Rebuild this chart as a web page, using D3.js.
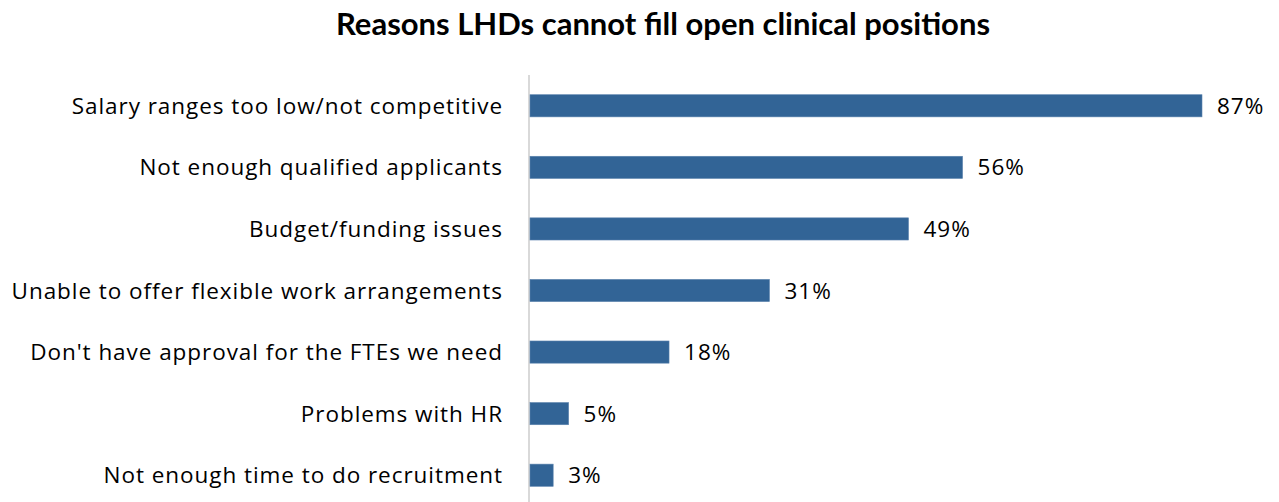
<!DOCTYPE html>
<meta charset='utf-8'>
<style>
body { margin: 0; background: #fff; }
svg text { font-family: "Open Sans", Lato, sans-serif; fill: #000; }
.title { font-family: Lato, sans-serif; font-weight: bold; font-size: 31px; }
.cat { font-size: 22.5px; letter-spacing: 0.95px; }
.val { font-size: 22.5px; letter-spacing: 1px; }
</style>
<svg width='1279' height='502'></svg>
<script src='https://d3js.org/d3.v7.min.js'></script>
<script>

var categories = [
  'Salary ranges too low/not competitive',
  'Not enough qualified applicants',
  'Budget/funding issues',
  'Unable to offer flexible work arrangements',
  "Don't have approval for the FTEs we need",
  'Problems with HR',
  'Not enough time to do recruitment'
];
var values = [87, 56, 49, 31, 18, 5, 3];
var title = 'Reasons LHDs cannot fill open clinical positions';

var svg = d3.select('svg'),
    plotLeft = 530,
    plotTop = 75;

var x = d3.scaleLinear().domain([0, 87]).range([plotLeft, 1202]);
var y = d3.scaleBand().domain(categories).range([plotTop, 506]).paddingInner(0.64).paddingOuter(0.32);

svg.append('text')
    .attr('class', 'title')
    .attr('x', 663)
    .attr('y', 35)
    .attr('text-anchor', 'middle')
    .text(title);

svg.append('line')
    .attr('x1', plotLeft - 1).attr('x2', plotLeft - 1)
    .attr('y1', plotTop).attr('y2', 502)
    .attr('stroke', '#d9d9d9')
    .attr('stroke-width', 2);

svg.selectAll('rect.bar')
    .data(values)
    .enter()
    .append('rect')
    .attr('class', 'bar')
    .attr('x', x(0))
    .attr('y', function(d, i) { return y(categories[i]); })
    .attr('width', function(d) { return x(d) - x(0); })
    .attr('height', y.bandwidth())
    .attr('fill', '#326496')
    .attr('stroke', '#5a82ad')
    .attr('stroke-width', 0.6);

svg.selectAll('text.val')
    .data(values)
    .enter()
    .append('text')
    .attr('class', 'val')
    .attr('x', function(d) { return x(d) + 15; })
    .attr('y', function(d, i) { return y(categories[i]) + y.bandwidth() / 2; })
    .attr('dy', '0.36em')
    .text(function(d) { return d + '%'; });

// trailing letter-spacing pushes end-anchored text left; shift by one spacing
svg.selectAll('text.cat')
    .data(categories)
    .enter()
    .append('text')
    .attr('class', 'cat')
    .attr('x', 503)
    .attr('y', function(d) { return y(d) + y.bandwidth() / 2; })
    .attr('dy', '0.36em')
    .attr('text-anchor', 'end')
    .text(function(d) { return d; });

</script>
